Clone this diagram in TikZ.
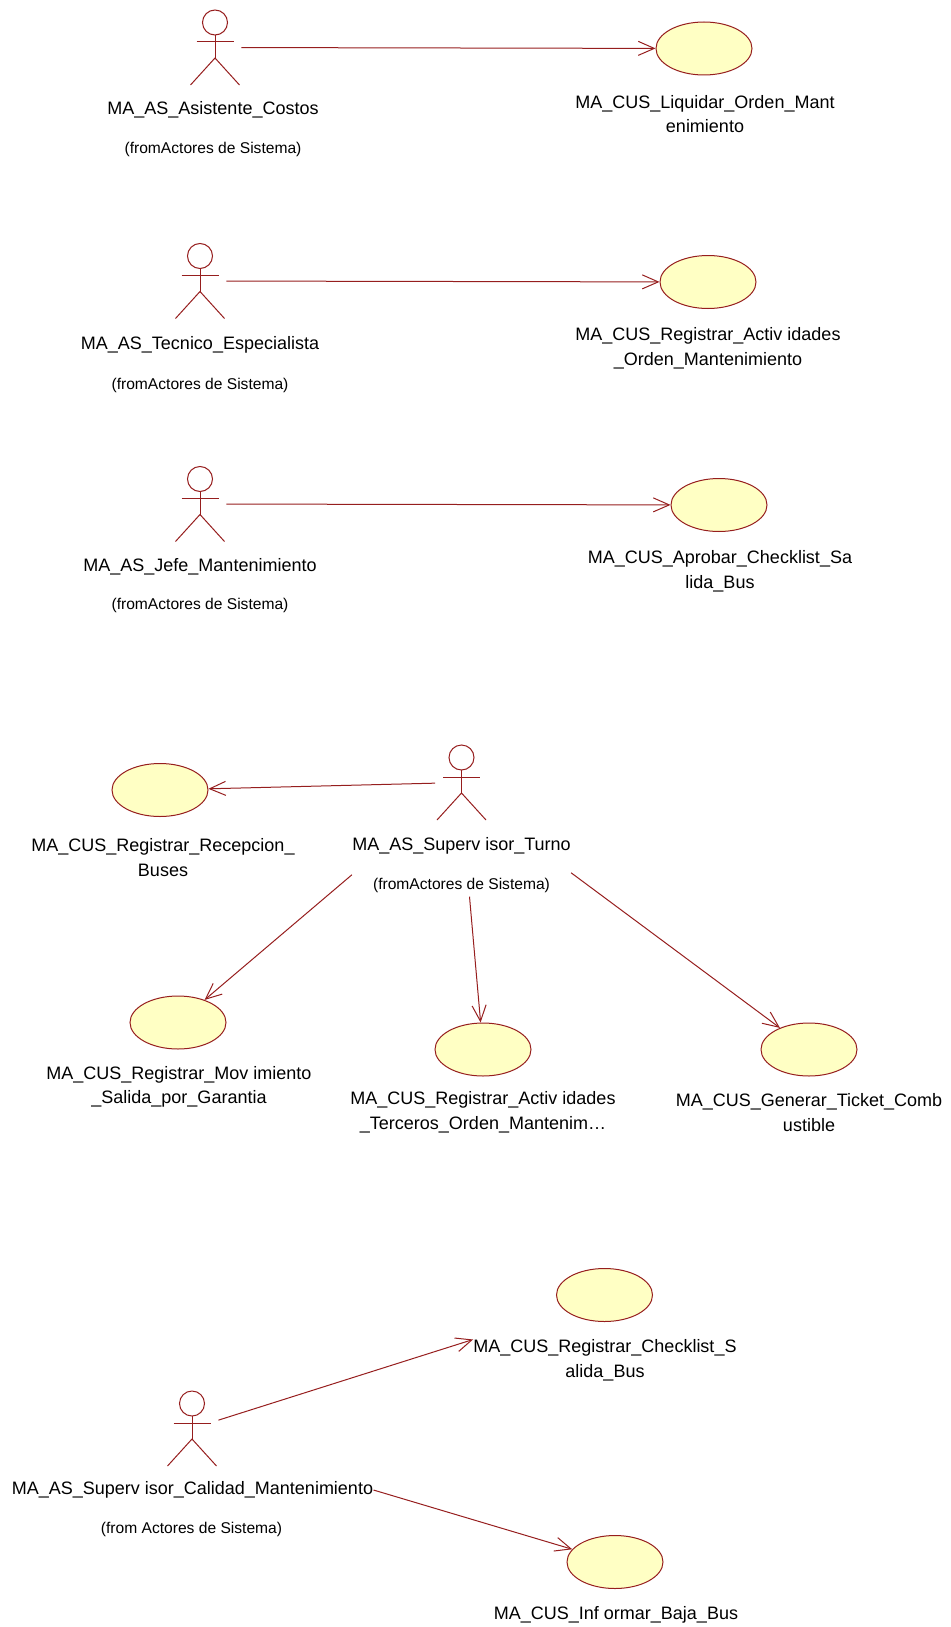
\documentclass[tikz,border=0pt]{standalone}
\usepackage{fontspec}
\setmainfont{Liberation Sans}
\usepackage{tikz}
\usetikzlibrary{shapes.geometric,arrows.meta}
\definecolor{rosered}{RGB}{150,30,30}
\definecolor{roseyellow}{RGB}{255,255,196}

\tikzset{
  actor/.style={minimum width=26pt,minimum height=39pt,inner sep=0pt,
    path picture={
      \begin{scope}[shift={(path picture bounding box.center)},x=1pt,y=1pt,rosered,line width=0.5pt]
        \draw (0,12.5) circle (6.25);
        \draw (-9.25,2.75) -- (9.25,2.75);
        \draw (0,6.25) -- (0,-5.25);
        \draw (-12.25,-18.75) -- (0,-5.25) -- (12.25,-18.75);
      \end{scope}}},
  usecase/.style={ellipse,draw=rosered,fill=roseyellow,line width=0.5pt,
    minimum width=48pt,minimum height=26.5pt,inner sep=0pt},
  lbl/.style={font=\fontsize{9}{12.3}\selectfont,align=center,inner sep=0pt},
  fromlbl/.style={font=\fontsize{7.8}{9}\selectfont,inner sep=0pt},
  assoc/.style={->,rosered,line width=0.5pt}
}

\begin{document}
\begin{tikzpicture}[x=0.5pt,y=-0.5pt,>={Straight Barb[length=8pt,width=7pt]}]
\useasboundingbox (0,0) rectangle (950,1627);

\node [actor] (a1) at(215,47.5) {};
\node [lbl] (a1lbl) at(213,110) {MA\_AS\_Asistente\_Costos};
\node [fromlbl] (a1from) at(213,149) {(fromActores de Sistema)};
\node [usecase] (e1) at(704,48.5) {};
\node [lbl] (e1lbl) at(705,114) {MA\_CUS\_Liquidar\_Orden\_Mant\\enimiento};
\draw [assoc] (a1) -- (e1);

\node [actor] (a2) at(200,281) {};
\node [lbl] (a2lbl) at(200,345) {MA\_AS\_Tecnico\_Especialista};
\node [fromlbl] (a2from) at(200,385) {(fromActores de Sistema)};
\node [usecase] (e2) at(708,282) {};
\node [lbl] (e2lbl) at(708,348.5) {MA\_CUS\_Registrar\_Activ idades\\\_Orden\_Mantenimiento};
\draw [assoc] (a2) -- (e2);

\node [actor] (a3) at(200,504) {};
\node [lbl] (a3lbl) at(200,567) {MA\_AS\_Jefe\_Mantenimiento};
\node [fromlbl] (a3from) at(200,605.5) {(fromActores de Sistema)};
\node [usecase] (e3) at(719,505) {};
\node [lbl] (e3lbl) at(720,571.5) {MA\_CUS\_Aprobar\_Checklist\_Sa\\lida\_Bus};
\draw [assoc] (a3) -- (e3);

\node [actor] (a4) at(461.5,782.5) {};
\node [lbl] (a4lbl) at(461.5,846) {MA\_AS\_Superv isor\_Turno};
\node [fromlbl] (a4from) at(461.5,885) {(fromActores de Sistema)};
\node [usecase] (e4) at(160,790) {};
\node [lbl] (e4lbl) at(163,857.5) {MA\_CUS\_Registrar\_Recepcion\_\\Buses};
\node [usecase] (e5) at(178,1022.5) {};
\node [lbl] (e5lbl) at(179,1087) {MA\_CUS\_Registrar\_Mov imiento\\\_Salida\_por\_Garantia};
\node [usecase] (e6) at(483,1049.5) {};
\node [lbl] (e6lbl) at(483,1112) {MA\_CUS\_Registrar\_Activ idades\\\_Terceros\_Orden\_Mantenim…};
\node [usecase] (e7) at(809,1049.5) {};
\node [lbl] (e7lbl) at(809,1112.5) {MA\_CUS\_Generar\_Ticket\_Comb\\ustible};
\draw [assoc] (a4) -- (e4);
\draw [assoc] ([yshift=-10pt]a4lbl.south west) -- (e5);
\draw [assoc] ([xshift=4pt,yshift=-2pt]a4from.south) -- (e6);
\draw [assoc] ([yshift=-9pt]a4lbl.south east) -- (e7);

\node [actor] (a5) at(192,1428.5) {};
\node [lbl] (a5lbl) at(192.5,1490) {MA\_AS\_Superv isor\_Calidad\_Mantenimiento};
\node [fromlbl] (a5from) at(191.5,1529) {(from Actores de Sistema)};
\node [usecase] (e8) at(604.5,1295) {};
\node [lbl] (e8lbl) at(605,1360.5) {MA\_CUS\_Registrar\_Checklist\_S\\alida\_Bus};
\node [usecase] (e9) at(615,1562) {};
\node [lbl] (e9lbl) at(616,1615) {MA\_CUS\_Inf ormar\_Baja\_Bus};
\draw [assoc] (a5) -- (e8lbl.north west);
\draw [assoc] (a5lbl.east) -- (e9);
\end{tikzpicture}
\end{document}
